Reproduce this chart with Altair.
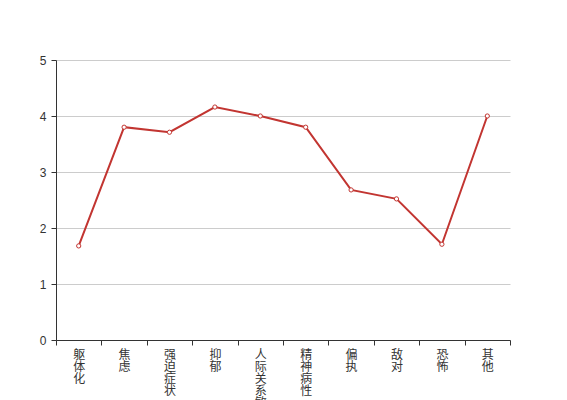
import altair as alt
import pandas as pd

categories = ["躯体化", "焦虑", "强迫症状", "抑郁", "人际关系敏感", "精神病性", "偏执", "敌对", "恐怖", "其他"]
values = [1.68, 3.80, 3.71, 4.16, 4.00, 3.80, 2.68, 2.52, 1.71, 4.00]

df = pd.DataFrame({"cat": categories, "val": values})

font = "Liberation Sans, Noto Sans CJK SC"

x = alt.X(
    "cat:N",
    sort=categories,
    title=None,
    scale=alt.Scale(type="band", paddingInner=0, paddingOuter=0),
    axis=alt.Axis(
        labelAngle=0,
        labelExpr="datum.value ? split(datum.value, '') : ''",
        labelFont=font,
        labelFontSize=12,
        labelColor="#333",
        labelLineHeight=12,
        labelPadding=4,
        tickBand="extent",
        tickSize=5,
        tickColor="#333",
        domainColor="#333",
        grid=False,
        labelBaseline="top",
        labelOverlap=False,
    ),
)
y = alt.Y(
    "val:Q",
    title=None,
    scale=alt.Scale(domain=[0, 5]),
    axis=alt.Axis(
        values=[0, 1, 2, 3, 4, 5],
        labelFont=font,
        labelFontSize=12,
        labelColor="#333",
        labelPadding=5,
        tickSize=5,
        tickColor="#333",
        domainColor="#333",
        gridColor="#ccc",
    ),
)

line = alt.Chart(df).mark_line(color="#c23531", strokeWidth=2).encode(x=x, y=y)
pts = alt.Chart(df).mark_point(
    shape="circle", filled=True, fill="white", stroke="#c23531", strokeWidth=1, size=18, opacity=1
).encode(x=x, y=y)

chart = (
    alt.layer(line, pts)
    .properties(
        width=454,
        height=280,
        autosize=alt.AutoSizeParams(type="none"),
        padding={"left": 48, "top": 52, "right": 10, "bottom": 80},
    )
    .configure_view(stroke=None)
)

chart.save("out.html", embed_options={"renderer": "svg", "actions": False})
